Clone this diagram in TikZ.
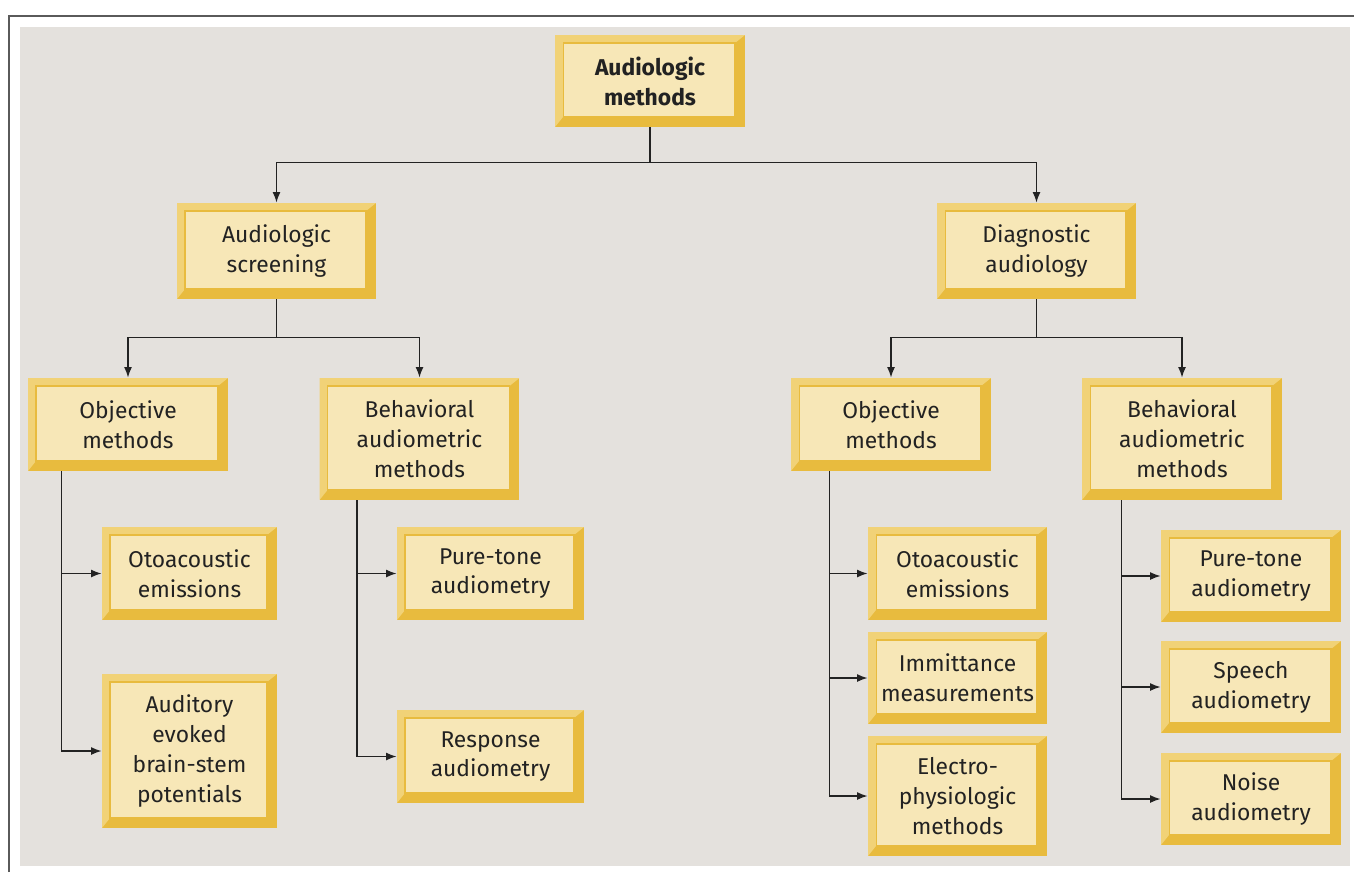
\documentclass[tikz,border=0pt]{standalone}
\usepackage{fontspec}
\setmainfont{Fira Sans}
\usetikzlibrary{arrows.meta}
\definecolor{panel}{HTML}{E4E1DD}
\definecolor{rim}{HTML}{5A5A5A}
\definecolor{gold}{HTML}{E8BB3E}
\definecolor{goldlt}{HTML}{F1D277}
\definecolor{cream}{HTML}{F7E7B7}
\definecolor{ink}{HTML}{222222}
\tikzstyle{bx}=[fill=gold,inner sep=0pt,align=center,text=ink,font=\fontsize{13}{17}\selectfont,
  path picture={
    \fill[goldlt] (path picture bounding box.north west) -- (path picture bounding box.north east)
      -- ([xshift=-0.2cm,yshift=-0.16cm]path picture bounding box.north east)
      -- ([xshift=0.16cm,yshift=-0.16cm]path picture bounding box.north west)
      -- ([xshift=0.16cm,yshift=0.2cm]path picture bounding box.south west)
      -- (path picture bounding box.south west) -- cycle;
    \filldraw[fill=cream,draw=gold,line width=0.6pt] ([xshift=0.16cm,yshift=-0.16cm]path picture bounding box.north west)
      rectangle ([xshift=-0.2cm,yshift=0.2cm]path picture bounding box.south east);
  }]
\tikzstyle{ln}=[draw=ink,line width=0.85pt,-{Latex[length=6pt,width=4.5pt]}]

\begin{document}
\begin{tikzpicture}[x=0.02cm,y=-0.02cm]
\useasboundingbox (0,0) rectangle (1354,872);
\fill[white] (0,0) rectangle (1354,872);
\fill[panel] (20,27) rectangle (1350,866);
\draw[rim,line width=0.05cm] (9,872) -- (9,16) -- (1354,16);

% levels 1 and 2
\node[bx,minimum width=3.8cm,minimum height=1.84cm] (top) at (650,81) {\textbf{Audiologic}\\\textbf{methods}};
\node[bx,minimum width=3.98cm,minimum height=1.92cm] (screen) at (276.5,251) {Audiologic\\screening};
\node[bx,minimum width=3.98cm,minimum height=1.92cm] (diag) at (1036.5,251) {Diagnostic\\audiology};

% level 3
\node[bx,minimum width=4cm,minimum height=1.86cm] (objL) at (128,424.5) {Objective\\methods};
\node[bx,minimum width=4cm,minimum height=2.44cm] (behL) at (419.5,439) {Behavioral\\audiometric\\methods};
\node[bx,minimum width=4cm,minimum height=1.86cm] (objR) at (891,424.5) {Objective\\methods};
\node[bx,minimum width=4cm,minimum height=2.44cm] (behR) at (1182,439) {Behavioral\\audiometric\\methods};

% level 4
\node[bx,minimum width=3.5cm,minimum height=1.86cm] (otoL) at (189.5,573.5) {Otoacoustic\\emissions};
\node[bx,minimum width=3.5cm,minimum height=3.08cm] (audL) at (189.5,751) {Auditory\\evoked\\brain-stem\\potentials};
\node[bx,minimum width=3.74cm,minimum height=1.86cm] (pureL) at (490.5,573.5) {Pure-tone\\audiometry};
\node[bx,minimum width=3.74cm,minimum height=1.86cm] (respL) at (490.5,756.5) {Response\\audiometry};
\node[bx,minimum width=3.58cm,minimum height=1.86cm] (otoR) at (957.5,573.5) {Otoacoustic\\emissions};
\node[bx,minimum width=3.58cm,minimum height=1.84cm] (immR) at (957.5,678) {Immittance\\measurements};
\node[bx,minimum width=3.58cm,minimum height=2.4cm] (elecR) at (957.5,796) {Electro-\\physiologic\\methods};
\node[bx,minimum width=3.6cm,minimum height=1.84cm] (pureR) at (1251,576) {Pure-tone\\audiometry};
\node[bx,minimum width=3.6cm,minimum height=1.84cm] (speechR) at (1251,687) {Speech\\audiometry};
\node[bx,minimum width=3.6cm,minimum height=1.84cm] (noiseR) at (1251,799) {Noise\\audiometry};

% connectors
\draw[ln] (top.south) -- ++(0,35) -| (screen);
\draw[ln] (top.south) -- ++(0,35) -| (diag);
\draw[ln] (screen.south) -- ++(0,38) -| (objL);
\draw[ln] (screen.south) -- ++(0,38) -| (behL);
\draw[ln] (diag.south) -- ++(0,38) -| (objR);
\draw[ln] (diag.south) -- ++(0,38) -| (behR);
\draw[ln] (objL.south west) ++(34,0) |- (otoL);
\draw[ln] (objL.south west) ++(34,0) |- (audL);
\draw[ln] (behL.south west) ++(38,0) |- (pureL);
\draw[ln] (behL.south west) ++(38,0) |- (respL);
\draw[ln] (objR.south west) ++(39,0) |- (otoR);
\draw[ln] (objR.south west) ++(39,0) |- (immR);
\draw[ln] (objR.south west) ++(39,0) |- (elecR);
\draw[ln] (behR.south west) ++(40,0) |- (pureR);
\draw[ln] (behR.south west) ++(40,0) |- (speechR);
\draw[ln] (behR.south west) ++(40,0) |- (noiseR);
\end{tikzpicture}
\end{document}
